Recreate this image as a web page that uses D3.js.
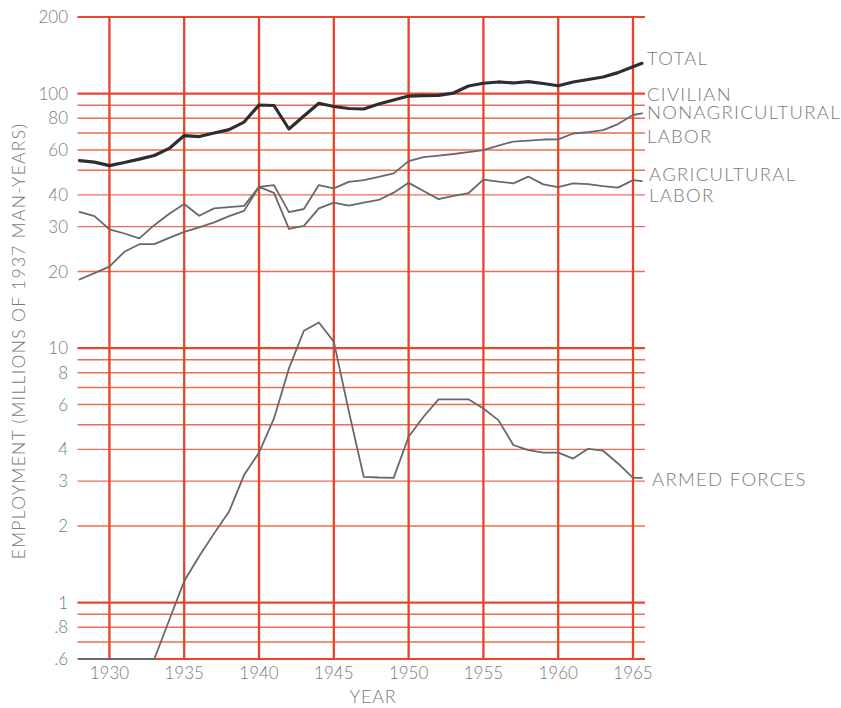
<!DOCTYPE html>
<html>
<head>
<meta charset="utf-8">
<script src="https://cdn.jsdelivr.net/npm/d3@7"></script>
<style>
  html, body { margin: 0; padding: 0; background: #ffffff; }
  svg { display: block; }
  text { font-family: Lato, "Liberation Sans", sans-serif; font-weight: 300; fill: #7a7a7a; }
</style>
</head>
<body>
<svg id="chart" width="841" height="708"></svg>
<script>
// Annual employment series, millions of 1937 man-years (last entry is mid-1965)
const years = [1928, 1929, 1930, 1931, 1932, 1933, 1934, 1935, 1936, 1937,
  1938, 1939, 1940, 1941, 1942, 1943, 1944, 1945, 1946, 1947,
  1948, 1949, 1950, 1951, 1952, 1953, 1954, 1955, 1956, 1957,
  1958, 1959, 1960, 1961, 1962, 1963, 1964, 1965, 1965.6];

const total = [54.5, 53.8, 52.1, 53.6, 55.3, 57.1, 60.9, 68.4, 67.8, 70.0,
  72.2, 77.3, 90.2, 89.8, 72.6, 81.6, 91.6, 89.0, 87.4, 87.0,
  91.0, 94.4, 97.8, 98.1, 98.4, 100.5, 107.1, 109.8, 111.1, 110.1,
  111.4, 109.6, 107.4, 111.1, 113.6, 116.2, 120.9, 127.5, 131.5];

const nonagricultural = [18.6, 19.7, 20.9, 23.9, 25.6, 25.6, 27.1, 28.6, 29.8, 31.2,
  33.0, 34.6, 43.0, 43.7, 34.2, 35.2, 43.7, 42.4, 45.0, 45.7,
  47.1, 48.6, 54.3, 56.3, 57.1, 57.9, 58.9, 60.0, 62.5, 64.8,
  65.4, 66.0, 66.1, 69.7, 70.6, 71.9, 75.9, 82.4, 83.7];

const agricultural = [34.3, 33.0, 29.3, 28.2, 27.0, 30.4, 33.7, 36.8, 33.1, 35.4,
  35.8, 36.2, 43.0, 40.7, 29.4, 30.2, 35.4, 37.3, 36.3, 37.3,
  38.2, 40.8, 44.6, 41.4, 38.5, 39.6, 40.6, 45.9, 45.1, 44.4,
  47.2, 44.0, 42.9, 44.4, 44.1, 43.3, 42.7, 45.7, 45.3];

// values under the .6 floor are drawn along the bottom rule
const armedForces = [0.6, 0.6, 0.6, 0.6, 0.6, 0.6, 0.854, 1.215, 1.52, 1.87,
  2.28, 3.17, 3.88, 5.29, 8.32, 11.7, 12.6, 10.6, 5.65, 3.12,
  3.10, 3.09, 4.48, 5.37, 6.29, 6.29, 6.29, 5.79, 5.21, 4.16,
  3.97, 3.88, 3.88, 3.68, 4.02, 3.95, 3.52, 3.09, 3.09];

const yearTicks = [1930, 1935, 1940, 1945, 1950, 1955, 1960, 1965];
const gridValues = [200, 100, 90, 80, 70, 60, 50, 40, 30, 20,
  10, 9, 8, 7, 6, 5, 4, 3, 2, 1, 0.9, 0.8, 0.7, 0.6];
const heavyGridValues = [200, 100, 10, 1, 0.6];
const valueTicks = [200, 100, 80, 60, 40, 30, 20, 10, 8, 6, 4, 3, 2, 1, 0.8, 0.6];

const totalLabel = ["TOTAL"];
const nonagriculturalLabel = ["CIVILIAN", "NONAGRICULTURAL", "LABOR"];
const agriculturalLabel = ["AGRICULTURAL", "LABOR"];
const armedForcesLabel = ["ARMED FORCES"];

const svg = d3.select("#chart");

const x = d3.scaleLinear().domain([1928, 1965]).range([79.5, 633]);
const y = d3.scaleLog().domain([0.6, 200]).range([659, 17]);

const gridLeft = x(1928) - 2;
const gridRight = x(1965.8);

// red ruling
const grid = svg.append("g");
grid.selectAll("line.h").data(gridValues).join("line")
  .attr("class", "h")
  .attr("x1", gridLeft).attr("x2", gridRight)
  .attr("y1", d => y(d)).attr("y2", d => y(d))
  .attr("stroke", d => heavyGridValues.includes(d) ? "#e9472c" : "#ef6b4e")
  .attr("stroke-width", d => heavyGridValues.includes(d) ? 2.2 : 1.4);

grid.selectAll("line.v").data(yearTicks).join("line")
  .attr("class", "v")
  .attr("x1", d => x(d)).attr("x2", d => x(d))
  .attr("y1", y(200) - 1).attr("y2", y(0.6) + 1)
  .attr("stroke", "#e7432a")
  .attr("stroke-width", 2.3);

// value labels on the left
const fmtValue = d => d < 1 ? String(d).replace(/^0/, "") : String(d);
svg.append("g").selectAll("text").data(valueTicks).join("text")
  .attr("x", 68)
  .attr("y", d => y(d))
  .attr("dy", "0.36em")
  .attr("text-anchor", "end")
  .attr("font-size", 17)
  .text(fmtValue);

// year labels
svg.append("g").selectAll("text").data(yearTicks).join("text")
  .attr("x", d => x(d))
  .attr("y", 679)
  .attr("text-anchor", "middle")
  .attr("font-size", 17)
  .text(d => d);

svg.append("text")
  .attr("x", 373).attr("y", 703)
  .attr("text-anchor", "middle")
  .attr("font-size", 18)
  .attr("letter-spacing", 0.8)
  .text("YEAR");

svg.append("text")
  .attr("transform", "translate(25,341) rotate(-90)")
  .attr("text-anchor", "middle")
  .attr("font-size", 17.5)
  .attr("letter-spacing", 1.3)
  .text("EMPLOYMENT (MILLIONS OF 1937 MAN-YEARS)");

// series
const line = d3.line().x((d, i) => x(years[i])).y(d => y(d));

const series = [
  { values: armedForces, width: 1.8, color: "#686868" },
  { values: agricultural, width: 1.8, color: "#686868" },
  { values: nonagricultural, width: 1.8, color: "#686868" },
  { values: total, width: 3.2, color: "#2e2e2e" }
];
svg.append("g").selectAll("path").data(series).join("path")
  .attr("d", d => line(d.values))
  .attr("fill", "none")
  .attr("stroke", d => d.color)
  .attr("stroke-width", d => d.width)
  .attr("stroke-linejoin", "round")
  .attr("stroke-linecap", "round");

// series names at the right edge, hung from each line's last value
function endLabel(lines, values, offsets, dx) {
  const yEnd = y(values[values.length - 1]);
  const t = svg.append("text")
    .attr("font-size", 18.5)
    .attr("letter-spacing", 1.3);
  t.selectAll("tspan").data(lines).join("tspan")
    .attr("x", 647 + dx)
    .attr("y", (d, i) => yEnd + offsets[i])
    .text(d => d);
}
endLabel(totalLabel, total, [1.5], 0);
endLabel(nonagriculturalLabel, nonagricultural, [-12.6, 5.7, 30], 0);
endLabel(agriculturalLabel, agricultural, [0, 20.7], 2);
endLabel(armedForcesLabel, armedForces, [8.3], 5);
</script>
</body>
</html>
